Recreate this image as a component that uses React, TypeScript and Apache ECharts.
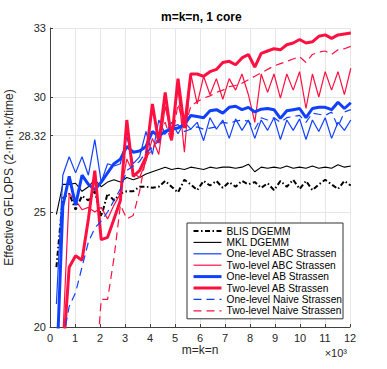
import React, { useEffect, useRef } from "react";
import * as echarts from "echarts";

const sizes = [256, 512, 768, 1024, 1280, 1536, 1792, 2048, 2304, 2560, 2816, 3072, 3328, 3584, 3840, 4096, 4352, 4608, 4864, 5120, 5376, 5632, 5888, 6144, 6400, 6656, 6912, 7168, 7424, 7680, 7936, 8192, 8448, 8704, 8960, 9216, 9472, 9728, 9984, 10240, 10496, 10752, 11008, 11264, 11520, 11776, 12032];

const blisDgemm = [22.6, 25.6, 25.8, 25.1, 25.7, 25.5, 25.9, 24.8, 25.8, 25.5, 25.8, 25.9, 25.9, 26.1, 26.1, 26.05, 26.1, 26.35, 26.1, 25.85, 26.4, 26.2, 25.95, 26.35, 26.15, 26.35, 26.05, 26.3, 26.1, 26.35, 26.2, 26.3, 26.05, 26.25, 25.95, 26.35, 26.1, 26.4, 26.0, 26.35, 25.95, 26.2, 26.4, 26.2, 26.0, 26.35, 26.15];
const mklDgemm = [24.9, 26.2, 26.2, 26.25, 25.9, 26.1, 26.4, 26.1, 26.3, 26.4, 26.3, 26.5, 26.4, 26.5, 26.65, 26.75, 26.85, 26.95, 26.85, 26.9, 26.85, 26.95, 26.9, 26.85, 26.95, 26.9, 26.95, 26.95, 26.9, 26.95, 27.08, 26.75, 26.95, 26.9, 26.95, 26.9, 27.0, 26.9, 26.95, 26.9, 27.0, 26.9, 26.95, 26.9, 27.05, 26.95, 27.0];
const oneLevelABC = [21.0, 26.6, 27.4, 26.7, 27.4, 26.6, 28.15, 26.3, 27.1, 27.0, 27.1, 28.3, 27.1, 27.4, 28.5, 27.5, 29.0, 28.4, 28.9, 28.4, 28.9, 28.6, 28.9, 28.1, 29.1, 28.6, 29.0, 28.2, 29.05, 28.55, 29.0, 28.2, 29.0, 28.55, 29.1, 28.15, 29.0, 28.55, 29.05, 28.15, 29.0, 28.5, 29.1, 28.2, 28.9, 28.55, 29.0];
const twoLevelABC = [12, 19.5, 25.8, 25.5, 25.1, 25.2, 25.0, 25.2, 24.7, 25.3, 25.8, 27.3, 26.7, 26.5, 27.2, 28.2, 27.5, 29.6, 28.3, 30.4, 27.6, 31.0, 29.7, 30.9, 30.1, 30.8, 29.9, 30.8, 30.3, 31.0, 30.1, 28.9, 31.0, 30.2, 31.0, 29.95, 31.0, 30.3, 31.1, 29.5, 31.0, 30.0, 31.1, 30.3, 31.1, 30.1, 31.25];
const oneLevelAB = [17.9, 25.25, 26.55, 25.3, 26.6, 26.2, 25.97, 26.3, 26.7, 27.1, 27.3, 27.85, 27.6, 27.65, 27.85, 28.5, 28.3, 28.5, 28.6, 28.65, 28.8, 29.2, 29.15, 29.1, 29.4, 29.45, 29.3, 29.55, 29.6, 29.45, 29.55, 29.35, 29.47, 29.5, 29.45, 29.07, 29.4, 29.45, 29.5, 29.1, 29.5, 29.55, 29.55, 29.45, 29.77, 29.5, 29.75];
const twoLevelAB = [10, 18.6, 22.6, 23.1, 22.9, 24.7, 26.8, 23.8, 23.9, 24.7, 25.5, 29.0, 26.55, 26.8, 27.4, 29.7, 28.0, 30.2, 28.15, 30.8, 28.65, 31.0, 31.0, 30.9, 31.1, 31.2, 31.5, 31.55, 31.4, 31.7, 31.85, 31.3, 31.9, 32.0, 32.1, 32.05, 32.27, 32.35, 32.5, 32.35, 32.4, 32.64, 32.7, 32.55, 32.7, 32.74, 32.78];
const oneLevelNaive = [15, 19.4, 20.9, 21.5, 22.6, 23.7, 24.3, 24.6, 25.0, 25.5, 26.0, 26.8, 27.0, 27.2, 27.6, 27.8, 28.1, 28.4, 28.7, 28.8, 28.5, 28.6, 28.7, 28.6, 28.65, 28.7, 28.9, 28.85, 28.95, 29.0, 28.95, 28.6, 29.1, 29.0, 29.1, 28.9, 29.1, 29.15, 29.2, 28.9, 29.3, 29.25, 29.2, 29.35, 28.7, 29.35, 29.45];
const twoLevelNaive = [5, 8, 11, 13, 15, 16.5, 17.4, 21.2, 21.2, 23.0, 25.3, 24.7, 24.85, 25.9, 27.4, 27.7, 28.3, 28.9, 28.0, 29.7, 28.6, 29.6, 29.8, 29.95, 30.05, 30.2, 30.3, 30.45, 30.5, 30.6, 30.75, 30.9, 31.05, 31.2, 31.35, 31.45, 31.55, 31.65, 31.75, 31.5, 31.85, 31.95, 32.0, 31.85, 32.05, 32.1, 32.2];

const yTicks = [20, 25, 28.32, 30, 33];

const BLUE = "#1040ff";
const RED = "#ff1040";
const FONT = "Liberation Sans, Arial, Helvetica, sans-serif";

const seriesDefs = [
  { name: "BLIS DGEMM", values: blisDgemm, color: "#000000", width: 2, type: [5, 2.5, 1.5, 2.5] as any },
  { name: "MKL DGEMM", values: mklDgemm, color: "#000000", width: 1.1, type: "solid" as any },
  { name: "One-level ABC Strassen", values: oneLevelABC, color: BLUE, width: 1.2, type: "solid" as any },
  { name: "Two-level ABC Strassen", values: twoLevelABC, color: RED, width: 1.2, type: "solid" as any },
  { name: "One-level AB Strassen", values: oneLevelAB, color: BLUE, width: 3, type: "solid" as any },
  { name: "Two-level AB Strassen", values: twoLevelAB, color: RED, width: 3, type: "solid" as any },
  { name: "One-level Naive Strassen", values: oneLevelNaive, color: BLUE, width: 1.2, type: [8, 5] as any },
  { name: "Two-level Naive Strassen", values: twoLevelNaive, color: RED, width: 1.2, type: [8, 5] as any },
];

export default function App() {
  const ref = useRef<HTMLDivElement>(null);
  useEffect(() => {
    const chart = echarts.init(ref.current!, null, { renderer: "svg" });
    const option: any = {
      animation: false,
      backgroundColor: "#ffffff",
      title: {
        text: "m=k=n, 1 core",
        left: 161,
        top: 11,
        padding: 0,
        textStyle: { fontSize: 12, fontWeight: "bold", color: "#000", fontFamily: FONT },
      },
      grid: { left: 50, right: 37, top: 28, bottom: 42, containLabel: false, outerBoundsMode: "none" },
      xAxis: {
        type: "value",
        min: 0,
        max: 12000,
        interval: 1000,
        name: "m=k=n",
        nameLocation: "middle",
        nameGap: 17,
        nameMoveOverlap: false,
        nameTextStyle: { fontSize: 12, color: "#262626", fontFamily: FONT },
        axisLine: { show: true, lineStyle: { color: "#404040", width: 1 } },
        axisTick: { show: true, inside: true, length: 3, lineStyle: { color: "#404040" } },
        axisLabel: {
          fontSize: 11,
          color: "#262626",
          fontFamily: FONT,
          margin: 5,
          formatter: (v: number) => String(v / 1000),
        },
        splitLine: { show: true, lineStyle: { color: "#e6e6e6", width: 1 } },
      },
      yAxis: {
        type: "value",
        min: 20,
        max: 33,
        name: "Effective GFLOPS (2·m·n·k/time)",
        nameLocation: "middle",
        nameGap: 35,
        nameMoveOverlap: false,
        nameTextStyle: { fontSize: 12, color: "#262626", fontFamily: FONT },
        axisLine: { show: true, lineStyle: { color: "#404040", width: 1 } },
        axisTick: { show: true, inside: true, length: 3, customValues: yTicks, lineStyle: { color: "#404040" } },
        axisLabel: {
          fontSize: 11,
          color: "#262626",
          fontFamily: FONT,
          margin: 4,
          customValues: yTicks,
          formatter: (v: number) => String(v),
        },
        splitLine: { show: true, lineStyle: { color: "#e6e6e6", width: 1 } },
      },
      legend: {
        orient: "vertical",
        left: 187,
        top: 223,
        itemWidth: 28,
        itemHeight: 8,
        itemGap: 1.4,
        padding: [3, 1, 3, 5],
        borderColor: "#333",
        borderWidth: 1,
        backgroundColor: "#ffffff",
        textStyle: { fontSize: 10.2, color: "#000", fontFamily: FONT },
        itemStyle: { opacity: 0 },
        lineStyle: { width: "inherit" },
        data: seriesDefs.map((s) => s.name),
      },
      graphic: [
        {
          type: "text",
          right: 40,
          top: 347,
          style: {
            text: "×10³",
            fontSize: 11,
            fill: "#262626",
            fontFamily: FONT,
          },
        },
      ],
      series: seriesDefs.map((s) => ({
        name: s.name,
        type: "line",
        symbol: "none",
        clip: true,
        data: sizes.map((x, i) => [x, s.values[i]]),
        lineStyle: { color: s.color, width: s.width, type: s.type },
        itemStyle: { color: s.color },
        emphasis: { disabled: true },
      })),
    };
    chart.setOption(option);
    return () => chart.dispose();
  }, []);
  return <div ref={ref} style={{ position: "absolute", left: 0, top: 0, width: 387, height: 369 }} />;
}
